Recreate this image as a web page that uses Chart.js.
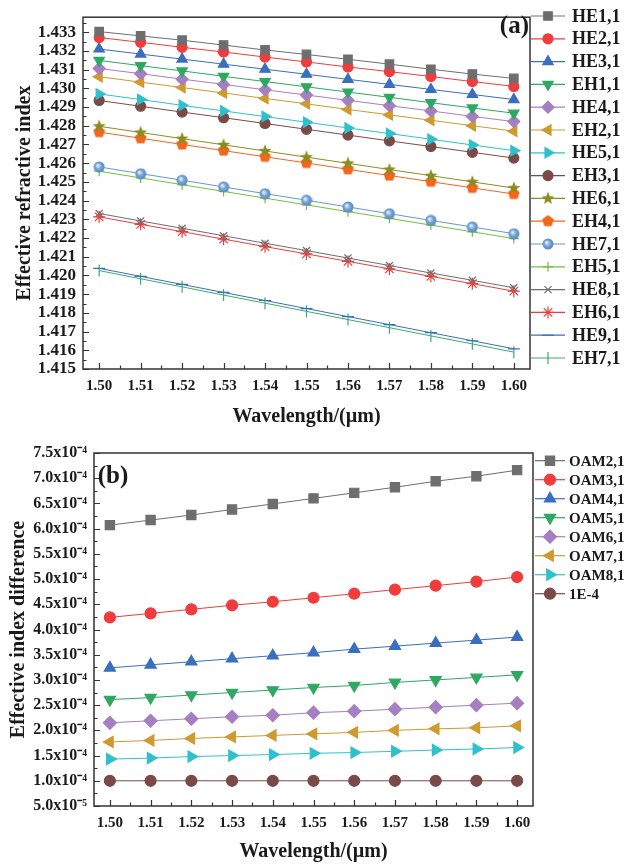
<!DOCTYPE html>
<html>
<head>
<meta charset="utf-8">
<script src="https://cdn.jsdelivr.net/npm/chart.js@4.4.1/dist/chart.umd.min.js"></script>
<style>
  body { margin: 0; background: #fff; }
  canvas { display: block; }
</style>
</head>
<body>
<canvas id="chart-a" width="631" height="430"></canvas>
<canvas id="chart-b" width="631" height="434"></canvas>
<script>
// x values (µm), shared by both panels
const wavelengths = [1.50, 1.51, 1.52, 1.53, 1.54, 1.55, 1.56, 1.57, 1.58, 1.59, 1.60];

// panel (a): effective refractive index per mode
const modesA = ['HE1,1', 'HE2,1', 'HE3,1', 'EH1,1', 'HE4,1', 'EH2,1', 'HE5,1', 'EH3,1',
    'HE6,1', 'EH4,1', 'HE7,1', 'EH5,1', 'HE8,1', 'EH6,1', 'HE9,1', 'EH7,1'];
const he11 = [1.43303, 1.43280, 1.43257, 1.43231, 1.43205, 1.43181, 1.43155, 1.43129, 1.43102, 1.43076, 1.43053];
const he21 = [1.43271, 1.43246, 1.43219, 1.43194, 1.43167, 1.43141, 1.43114, 1.43089, 1.43063, 1.43036, 1.43010];
const he31 = [1.43210, 1.43183, 1.43156, 1.43129, 1.43102, 1.43075, 1.43048, 1.43021, 1.42994, 1.42967, 1.42940];
const eh11 = [1.43149, 1.43121, 1.43093, 1.43064, 1.43036, 1.43008, 1.42980, 1.42952, 1.42923, 1.42895, 1.42867];
const he41 = [1.43106, 1.43078, 1.43049, 1.43021, 1.42992, 1.42964, 1.42936, 1.42907, 1.42879, 1.42850, 1.42822];
const eh21 = [1.43062, 1.43033, 1.43004, 1.42975, 1.42946, 1.42917, 1.42887, 1.42858, 1.42829, 1.42800, 1.42771];
const he51 = [1.42970, 1.42940, 1.42909, 1.42879, 1.42849, 1.42819, 1.42788, 1.42758, 1.42728, 1.42697, 1.42667];
const eh31 = [1.42935, 1.42904, 1.42873, 1.42843, 1.42812, 1.42781, 1.42750, 1.42719, 1.42689, 1.42658, 1.42627];
const he61 = [1.42797, 1.42764, 1.42731, 1.42698, 1.42665, 1.42632, 1.42599, 1.42566, 1.42533, 1.42500, 1.42467];
const eh41 = [1.42766, 1.42733, 1.42700, 1.42667, 1.42634, 1.42601, 1.42567, 1.42534, 1.42501, 1.42468, 1.42435];
const he71 = [1.42580, 1.42544, 1.42509, 1.42473, 1.42437, 1.42402, 1.42366, 1.42330, 1.42294, 1.42259, 1.42223];
const eh51 = [1.42557, 1.42521, 1.42485, 1.42449, 1.42413, 1.42377, 1.42341, 1.42305, 1.42269, 1.42233, 1.42197];
const he81 = [1.42331, 1.42291, 1.42252, 1.42212, 1.42172, 1.42133, 1.42093, 1.42053, 1.42013, 1.41974, 1.41934];
const eh61 = [1.42313, 1.42273, 1.42234, 1.42194, 1.42154, 1.42115, 1.42075, 1.42035, 1.41995, 1.41956, 1.41916];
const he91 = [1.42038, 1.41995, 1.41952, 1.41909, 1.41866, 1.41823, 1.41780, 1.41737, 1.41694, 1.41651, 1.41608];
const eh71 = [1.42026, 1.41982, 1.41939, 1.41895, 1.41852, 1.41808, 1.41764, 1.41721, 1.41677, 1.41634, 1.41590];
const seriesA = [he11, he21, he31, eh11, he41, eh21, he51, eh31, he61, eh41, he71, eh51, he81, eh61, he91, eh71];

// panel (b): effective index difference per OAM group
const modesB = ['OAM2,1', 'OAM3,1', 'OAM4,1', 'OAM5,1', 'OAM6,1', 'OAM7,1', 'OAM8,1', '1E-4'];
const oam21 = [6.07e-4, 6.17e-4, 6.27e-4, 6.38e-4, 6.49e-4, 6.60e-4, 6.71e-4, 6.82e-4, 6.94e-4, 7.04e-4, 7.16e-4];
const oam31 = [4.24e-4, 4.32e-4, 4.40e-4, 4.48e-4, 4.55e-4, 4.63e-4, 4.71e-4, 4.79e-4, 4.87e-4, 4.95e-4, 5.04e-4];
const oam41 = [3.24e-4, 3.30e-4, 3.36e-4, 3.42e-4, 3.48e-4, 3.54e-4, 3.61e-4, 3.67e-4, 3.73e-4, 3.79e-4, 3.85e-4];
const oam51 = [2.61e-4, 2.65e-4, 2.70e-4, 2.75e-4, 2.80e-4, 2.85e-4, 2.89e-4, 2.95e-4, 3.00e-4, 3.05e-4, 3.10e-4];
const oam61 = [2.15e-4, 2.19e-4, 2.23e-4, 2.27e-4, 2.30e-4, 2.35e-4, 2.38e-4, 2.42e-4, 2.46e-4, 2.50e-4, 2.54e-4];
const oam71 = [1.77e-4, 1.80e-4, 1.84e-4, 1.87e-4, 1.90e-4, 1.93e-4, 1.96e-4, 2.00e-4, 2.03e-4, 2.05e-4, 2.09e-4];
const oam81 = [1.43e-4, 1.45e-4, 1.48e-4, 1.50e-4, 1.52e-4, 1.545e-4, 1.56e-4, 1.585e-4, 1.61e-4, 1.63e-4, 1.66e-4];
const ref1e4 = [1.0e-4, 1.0e-4, 1.0e-4, 1.0e-4, 1.0e-4, 1.0e-4, 1.0e-4, 1.0e-4, 1.0e-4, 1.0e-4, 1.0e-4];
const seriesB = [oam21, oam31, oam41, oam51, oam61, oam71, oam81, ref1e4];

const FONT = "'Liberation Serif', 'Times New Roman', serif";
const INK = '#1a1a1a';

// small canvases for marker shapes Chart.js does not have
function makeMarker(size, draw) {
    const c = document.createElement('canvas');
    c.width = size;
    c.height = size;
    draw(c.getContext('2d'), size / 2);
    return c;
}

function polygon(g, r, points, outer, inner) {
    g.beginPath();
    const n = inner ? points * 2 : points;
    for (let i = 0; i < n; i++) {
        const a = -Math.PI / 2 + i * Math.PI * 2 / n;
        const rr = inner && i % 2 ? inner : outer;
        g.lineTo(r + rr * Math.cos(a), r + rr * Math.sin(a));
    }
    g.closePath();
    g.fill();
}

const starMarker = makeMarker(14, (g, r) => {
    g.fillStyle = '#8c8c22';
    polygon(g, r, 5, 6.8, 2.9);
});
const pentagonMarker = makeMarker(13, (g, r) => {
    g.fillStyle = '#f5651b';
    polygon(g, r, 5, 6.2);
});
const sphereMarker = makeMarker(12, (g, r) => {
    const grad = g.createRadialGradient(r - 1.5, r - 1.5, 0.5, r, r, r);
    grad.addColorStop(0, '#e8f1fb');
    grad.addColorStop(0.45, '#7aa6d6');
    grad.addColorStop(1, '#4d82c0');
    g.fillStyle = grad;
    g.beginPath();
    g.arc(r, r, r - 0.5, 0, Math.PI * 2);
    g.fill();
});

const stylesA = [
    { color: '#6e6e6e', point: 'rect', radius: 6 },
    { color: '#f03c3c', point: 'circle', radius: 5 },
    { color: '#3a6ec0', point: 'triangle', radius: 6 },
    { color: '#2fa862', point: 'triangle', radius: 6, rotation: 180 },
    { color: '#a57fc2', point: 'rectRot', radius: 6 },
    { color: '#cf9a2e', point: 'triangle', radius: 6, rotation: -90 },
    { color: '#30c0cc', point: 'triangle', radius: 6, rotation: 90 },
    { color: '#7a4a48', point: 'circle', radius: 5 },
    { color: '#8c8c22', point: starMarker, radius: 6 },
    { color: '#f5651b', point: pentagonMarker, radius: 6 },
    { color: '#6699cc', point: sphereMarker, radius: 6 },
    { color: '#74bf3e', point: 'cross', radius: 5 },
    { color: '#6e6e6e', point: 'crossRot', radius: 5 },
    { color: '#f03c3c', point: 'star', radius: 6 },
    { color: '#3a6ec0', point: 'line', radius: 6 },
    { color: '#3aad6a', point: 'line', radius: 6, rotation: 90 }
];

const stylesB = [
    { color: '#6e6e6e', point: 'rect', radius: 6.5 },
    { color: '#f03c3c', point: 'circle', radius: 5.5 },
    { color: '#3a6ec0', point: 'triangle', radius: 6.5 },
    { color: '#2fa862', point: 'triangle', radius: 6.5, rotation: 180 },
    { color: '#a57fc2', point: 'rectRot', radius: 6.5 },
    { color: '#cf9a2e', point: 'triangle', radius: 6.5, rotation: -90 },
    { color: '#30c0cc', point: 'triangle', radius: 6.5, rotation: 90 },
    { color: '#7a4a48', point: 'circle', radius: 5.5 }
];

function buildDatasets(labels, series, styles) {
    return series.map((values, i) => {
        const s = styles[i];
        return {
            label: labels[i],
            data: values.map((v, j) => ({ x: wavelengths[j], y: v })),
            borderColor: s.color,
            borderWidth: 1,
            pointStyle: s.point,
            pointRotation: s.rotation || 0,
            pointRadius: s.radius,
            pointBackgroundColor: s.color,
            pointBorderColor: s.color,
            pointBorderWidth: 1.2,
            tension: 0
        };
    });
}

// frame plus inward major/minor ticks on bottom and left axes
const frameTicks = {
    id: 'frameTicks',
    afterDatasetsDraw(chart) {
        const { ctx, chartArea: a, scales: { x, y } } = chart;
        ctx.save();
        ctx.strokeStyle = '#333';
        ctx.lineWidth = 1.5;
        ctx.strokeRect(a.left, a.top, a.right - a.left, a.bottom - a.top);
        ctx.lineWidth = 1.2;
        ctx.beginPath();
        const xt = x.ticks.map(t => t.value);
        xt.forEach((v, i) => {
            const px = Math.round(x.getPixelForValue(v)) + 0.5;
            ctx.moveTo(px, a.bottom);
            ctx.lineTo(px, a.bottom - 6);
            if (i < xt.length - 1) {
                const mx = Math.round(x.getPixelForValue((v + xt[i + 1]) / 2)) + 0.5;
                ctx.moveTo(mx, a.bottom);
                ctx.lineTo(mx, a.bottom - 3.5);
            }
        });
        const yt = y.ticks.map(t => t.value);
        const step = yt[1] - yt[0];
        yt.forEach(v => {
            const py = Math.round(y.getPixelForValue(v)) + 0.5;
            ctx.moveTo(a.left, py);
            ctx.lineTo(a.left + 6, py);
            const half = v + step / 2;
            if (half < y.max) {
                const my = Math.round(y.getPixelForValue(half)) + 0.5;
                ctx.moveTo(a.left, my);
                ctx.lineTo(a.left + 3.5, my);
            }
        });
        ctx.stroke();
        ctx.restore();
    }
};

// legend to the right of the frame, line with marker, plus panel tag
const sideLegend = {
    id: 'sideLegend',
    afterDraw(chart, args, o) {
        const ctx = chart.ctx;
        ctx.save();
        ctx.textBaseline = 'middle';
        chart.data.datasets.forEach((ds, i) => {
            const y = o.top + i * o.step;
            ctx.strokeStyle = ds.borderColor;
            ctx.lineWidth = 1.2;
            ctx.beginPath();
            ctx.moveTo(o.lineFrom, y);
            ctx.lineTo(o.lineTo, y);
            ctx.stroke();
            ctx.fillStyle = ds.pointBackgroundColor;
            ctx.strokeStyle = ds.pointBorderColor;
            ctx.lineWidth = ds.pointBorderWidth;
            Chart.helpers.drawPoint(ctx, {
                pointStyle: ds.pointStyle,
                rotation: ds.pointRotation,
                radius: ds.pointRadius,
                borderWidth: ds.pointBorderWidth
            }, (o.lineFrom + o.lineTo) / 2, y);
            ctx.fillStyle = INK;
            ctx.textAlign = 'left';
            ctx.font = o.font;
            ctx.fillText(ds.label, o.textX, y + 1);
        });
        ctx.font = o.tagFont;
        ctx.textAlign = o.tagAlign;
        ctx.fillStyle = INK;
        ctx.fillText(o.tag, o.tagX, o.tagY);
        ctx.restore();
    }
};

function makeChart(canvas, datasets, cfg) {
    return new Chart(canvas, {
        type: 'line',
        data: { datasets },
        plugins: [frameTicks, sideLegend],
        options: {
            responsive: false,
            animation: false,
            devicePixelRatio: 1,
            layout: { padding: { top: cfg.top, right: cfg.right, left: 0, bottom: 0 } },
            plugins: {
                legend: { display: false },
                tooltip: { enabled: false },
                sideLegend: cfg.legend
            },
            scales: {
                x: {
                    type: 'linear',
                    min: 1.4961,
                    max: 1.6039,
                    grid: { display: false, drawTicks: false },
                    border: { display: false },
                    afterFit: s => { s.height = cfg.xHeight; },
                    ticks: {
                        stepSize: 0.01,
                        includeBounds: false,
                        autoSkip: false,
                        maxRotation: 0,
                        padding: 8,
                        color: INK,
                        font: { family: FONT, size: 15, weight: 'bold' },
                        callback: v => v.toFixed(2)
                    },
                    title: {
                        display: true,
                        text: 'Wavelength/(\u00b5m)',
                        color: INK,
                        font: { family: FONT, size: 20, weight: 'bold' },
                        padding: { top: 0, bottom: cfg.xTitlePad }
                    }
                },
                y: {
                    type: 'linear',
                    min: cfg.yMin,
                    max: cfg.yMax,
                    grid: { display: false, drawTicks: false },
                    border: { display: false },
                    afterFit: s => { s.width = cfg.yWidth; },
                    ticks: {
                        stepSize: cfg.yStep,
                        includeBounds: false,
                        autoSkip: false,
                        padding: 7,
                        color: INK,
                        font: { family: FONT, size: cfg.yTickSize, weight: 'bold' },
                        callback: cfg.yFormat
                    },
                    title: {
                        display: true,
                        text: cfg.yTitle,
                        color: INK,
                        font: { family: FONT, size: 20, weight: 'bold' },
                        padding: { top: cfg.yTitlePad, bottom: 0 }
                    }
                }
            }
        }
    });
}

makeChart(document.getElementById('chart-a'), buildDatasets(modesA, seriesA, stylesA), {
    top: 9, right: 101, xHeight: 61, yWidth: 83, xTitlePad: 1, yTitlePad: 13,
    yMin: 1.415, yMax: 1.4338, yStep: 0.001, yTickSize: 17,
    yFormat: v => v.toFixed(3),
    yTitle: 'Effective refractive index',
    legend: {
        top: 16, step: 22.8, lineFrom: 531, lineTo: 565, textX: 572,
        font: `bold 18px ${FONT}`,
        tag: '(a)', tagFont: `bold 25px ${FONT}`, tagAlign: 'right', tagX: 529, tagY: 27
    }
});

makeChart(document.getElementById('chart-b'), buildDatasets(modesB, seriesB, stylesB), {
    top: 23, right: 98, xHeight: 58, yWidth: 94, xTitlePad: 0, yTitlePad: 7,
    yMin: 0.5e-4, yMax: 7.5e-4, yStep: 0.5e-4, yTickSize: 16,
    yFormat: v => {
        const m = v * 1e4;
        if (Math.abs(m - 0.5) < 1e-6) return '5.0x10\u207b\u2075';
        return m.toFixed(1) + 'x10\u207b\u2074';
    },
    yTitle: 'Effective index difference',
    legend: {
        top: 30.7, step: 19, lineFrom: 535, lineTo: 565, textX: 569,
        font: `bold 15px ${FONT}`,
        tag: '(b)', tagFont: `bold 25px ${FONT}`, tagAlign: 'center', tagX: 113, tagY: 47
    }
});
</script>
</body>
</html>
